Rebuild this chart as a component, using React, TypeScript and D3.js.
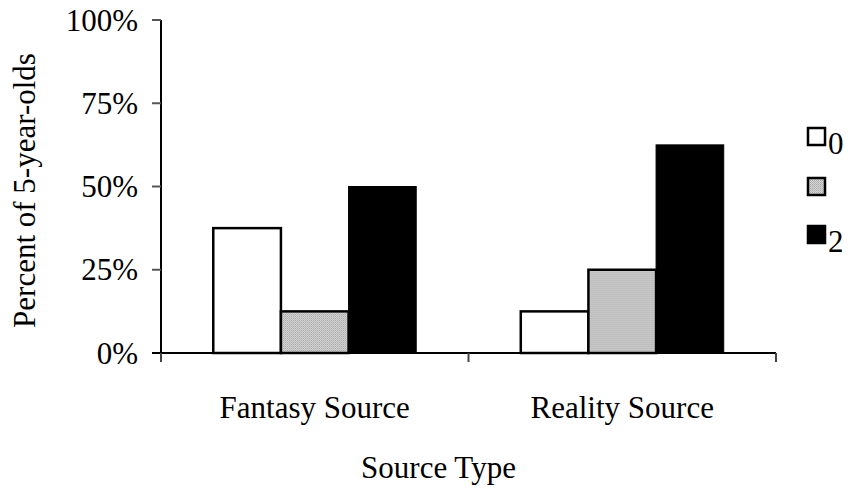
import React from "react";
import * as d3 from "d3";

const categories = ["Fantasy Source", "Reality Source"];
const seriesNames = ["0", "", "2"];
const values: number[][] = [
  [0.375, 0.125, 0.5],
  [0.125, 0.25, 0.625],
];
const yTicks = [0, 0.25, 0.5, 0.75, 1];

const W = 853;
const H = 489;
const FONT = "'Liberation Serif', 'Times New Roman', serif";

export default function App() {
  const left = 161, right = 776, top = 20, bottom = 353;
  const y = d3.scaleLinear().domain([0, 1]).range([bottom, top]);
  const x0 = d3.scaleBand<string>().domain(categories).range([left, right]).padding(0);
  const bw = x0.bandwidth();
  const x1 = d3
    .scaleBand<string>()
    .domain(seriesNames.map((_, i) => String(i)))
    .range([bw * 0.17, bw * 0.83])
    .padding(0);
  const fills = ["#ffffff", "url(#hatch)", "#000000"];
  const fmt = d3.format(".0%");

  return (
    <svg width={W} height={H} style={{ display: "block", position: "absolute", left: 0, top: 0 }}>
      <defs>
        <pattern id="hatch" width="2" height="2" patternUnits="userSpaceOnUse">
          <rect width="2" height="2" fill="#d6d6d6" />
          <rect x="0" y="0" width="1" height="1" fill="#a8a8a8" />
          <rect x="1" y="1" width="1" height="1" fill="#b8b8b8" />
        </pattern>
      </defs>
      <rect width={W} height={H} fill="#fff" />
      {/* bars */}
      {categories.map((c, ci) => (
        <g key={c} transform={`translate(${x0(c)},0)`}>
          {values[ci].map((v, si) => (
            <rect
              key={si}
              x={x1(String(si))!}
              y={y(v)}
              width={x1.bandwidth()}
              height={bottom - y(v)}
              fill={fills[si]}
              stroke="#000"
              strokeWidth={si === 2 ? 1 : 2.5}
            />
          ))}
        </g>
      ))}
      {/* y axis */}
      <line x1={left} x2={left} y1={top} y2={bottom + 9} stroke="#000" strokeWidth={2} />
      {yTicks.map((t) => (
        <g key={t}>
          <line x1={left - 9} x2={left} y1={y(t)} y2={y(t)} stroke={t === 0 ? "#000" : "#555"} strokeWidth={2} />
          <text
            x={138}
            y={y(t)}
            textAnchor="end"
            dominantBaseline="central"
            fontFamily={FONT}
            fontSize={31}
          >
            {fmt(t)}
          </text>
        </g>
      ))}
      {/* x axis */}
      <line x1={left - 9} x2={right} y1={bottom} y2={bottom} stroke="#000" strokeWidth={2} />
      {[...categories.map((c) => x0(c)!), right].map((t, i) => (
        <line key={i} x1={t} x2={t} y1={bottom} y2={bottom + 9} stroke="#444" strokeWidth={2} />
      ))}
      {categories.map((c) => (
        <text
          key={c}
          x={x0(c)! + bw / 2}
          y={418}
          textAnchor="middle"
          fontFamily={FONT}
          fontSize={31}
        >
          {c}
        </text>
      ))}
      <text x={(left + right) / 2 - 30} y={478} textAnchor="middle" fontFamily={FONT} fontSize={31}>
        Source Type
      </text>
      <text
        transform={`translate(35,${(top + bottom) / 2 + 4}) rotate(-90)`}
        textAnchor="middle"
        fontFamily={FONT}
        fontSize={31}
      >
        Percent of 5-year-olds
      </text>
      {/* legend */}
      {seriesNames.map((s, i) => {
        const ly = [128, 178, 226][i];
        return (
          <g key={i}>
            <rect
              x={808}
              y={ly}
              width={17}
              height={17}
              fill={fills[i]}
              stroke="#000"
              strokeWidth={2.5}
            />
            <text x={828} y={ly + 26} fontFamily={FONT} fontSize={31}>
              {s}
            </text>
          </g>
        );
      })}
    </svg>
  );
}
